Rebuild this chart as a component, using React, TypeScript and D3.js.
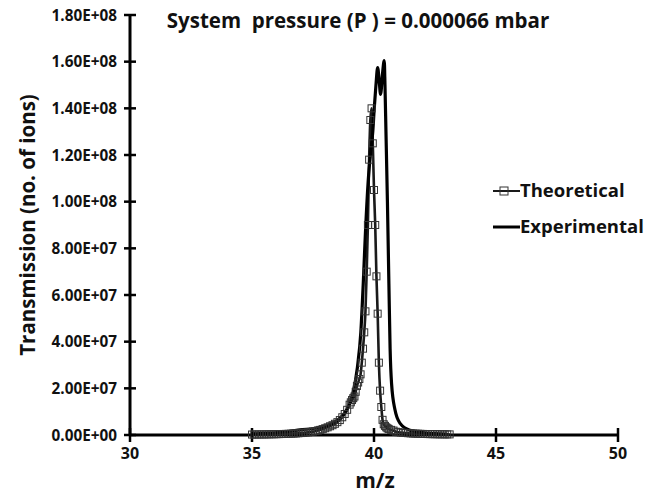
import React from "react";
import * as d3 from "d3";

const title = "System  pressure (P ) = 0.000066 mbar";
const xLabel = "m/z";
const yLabel = "Transmission (no. of ions)";
const xTicks = [30, 35, 40, 45, 50];
const yTicks = [0, 2e7, 4e7, 6e7, 8e7, 1e8, 1.2e8, 1.4e8, 1.6e8, 1.8e8];
const yTickLabels = ["0.00E+00", "2.00E+07", "4.00E+07", "6.00E+07", "8.00E+07", "1.00E+08", "1.20E+08", "1.40E+08", "1.60E+08", "1.80E+08"];
const seriesNames = ["Theoretical", "Experimental"];

const theoMz = [
  35.0, 35.1, 35.2, 35.3, 35.4, 35.5, 35.6, 35.7, 35.8, 35.9,
  36.0, 36.1, 36.2, 36.3, 36.4, 36.5, 36.6, 36.7, 36.8, 36.9,
  37.0, 37.1, 37.2, 37.3, 37.4, 37.5, 37.6, 37.7, 37.8, 37.9,
  38.0, 38.1, 38.2, 38.3, 38.4, 38.5, 38.6, 38.7, 38.8, 38.9,
  39.0, 39.05, 39.1, 39.15, 39.2, 39.25, 39.3, 39.35, 39.4, 39.45,
  39.5, 39.55, 39.6, 39.65, 39.7, 39.75, 39.8, 39.85, 39.9, 39.95,
  40.0, 40.05, 40.1, 40.15, 40.2, 40.25, 40.3, 40.35, 40.4, 40.45,
  40.5, 40.55, 40.6, 40.7, 40.8, 40.9, 41.0, 41.1, 41.2, 41.3,
  41.4, 41.5, 41.6, 41.7, 41.8, 41.9, 42.0, 42.1, 42.2, 42.3,
  42.4, 42.5, 42.6, 42.7, 42.8, 42.9, 43.0, 43.1,
];
const theoVal = [
  2.0e5, 2.1e5, 2.2e5, 2.3e5, 2.4e5, 2.5e5, 2.7e5, 2.9e5, 3.1e5, 3.3e5,
  3.5e5, 3.8e5, 4.1e5, 4.4e5, 4.8e5, 5.2e5, 5.7e5, 6.2e5, 6.8e5, 7.5e5,
  8.3e5, 9.2e5, 1.02e6, 1.14e6, 1.28e6, 1.45e6, 1.65e6, 1.9e6, 2.2e6, 2.5e6,
  2.9e6, 3.3e6, 3.75e6, 4.2e6, 4.8e6, 5.5e6, 6.4e6, 7.6e6, 9.0e6, 1.08e7,
  1.3e7, 1.4e7, 1.5e7, 1.58e7, 1.65e7, 1.85e7, 2.1e7, 2.25e7, 2.4e7, 2.6e7,
  3.1e7, 3.7e7, 4.4e7, 5.3e7, 7.0e7, 9.0e7, 1.18e8, 1.35e8, 1.4e8, 1.25e8,
  1.05e8, 9.0e7, 6.8e7, 5.2e7, 3.1e7, 1.9e7, 1.2e7, 6.5e6, 4.6e6, 3.9e6,
  3.3e6, 2.9e6, 2.6e6, 2.2e6, 1.9e6, 1.4e6, 1.2e6, 1.05e6, 9.5e5, 8.5e5,
  7.7e5, 7.0e5, 6.4e5, 5.9e5, 5.4e5, 5.0e5, 4.6e5, 4.3e5, 4.0e5, 3.8e5,
  3.6e5, 3.4e5, 3.2e5, 3.0e5, 2.9e5, 2.8e5, 2.7e5, 2.6e5,
];

const expMz = [
  35.0, 35.5, 36.0, 36.5, 36.97, 37.65, 38.32, 38.88, 39.14, 39.32,
  39.46, 39.56, 39.65, 39.76, 39.88, 39.95, 40.01, 40.08, 40.15, 40.21,
  40.27, 40.35, 40.42, 40.45, 40.49, 40.55, 40.61, 40.66, 40.72, 40.86,
  41.07, 41.48, 42.0, 42.5, 43.0,
];
const expVal = [
  5e5, 7e5, 1.0e6, 1.5e6, 2.2e6, 3.0e6, 5.2e6, 1.08e7, 1.8e7, 2.9e7,
  4.4e7, 6.5e7, 8.7e7, 1.085e8, 1.23e8, 1.3e8, 1.4e8, 1.5e8, 1.575e8, 1.52e8,
  1.46e8, 1.55e8, 1.605e8, 1.5e8, 1.3e8, 1.0e8, 6.5e7, 3.7e7, 2.2e7, 1.08e7,
  5e6, 2e6, 1e6, 6e5, 4e5,
];

const FONT = "'Open Sans', Lato, sans-serif";

export default function App() {
  const W = 661, H = 494;
  const x = d3.scaleLinear().domain([30, 50]).range([130, 618]);
  const y = d3.scaleLinear().domain([0, 1.8e8]).range([435, 15]);

  const theo = theoMz.map((m, i) => [m, theoVal[i]] as [number, number]);
  const exp = expMz.map((m, i) => [m, expVal[i]] as [number, number]);

  const line = d3.line<[number, number]>()
    .x(d => x(d[0]))
    .y(d => y(d[1]))
    .curve(d3.curveMonotoneX);

  const ms = 7;

  return (
    <svg width={W} height={H} style={{ position: "absolute", left: 0, top: 0, background: "#fff" }} fontFamily={FONT} fontWeight="bold">
      <rect width={W} height={H} fill="#fff" />
      <text x={358} y={28} textAnchor="middle" fontSize={20.5} fill="#111" style={{ whiteSpace: "pre" }}>{title}</text>

      {/* y axis */}
      <line x1={x(30)} x2={x(30)} y1={y(1.8e8)} y2={y(0)} stroke="#000" strokeWidth={3} />
      {yTicks.map((t, i) => (
        <g key={"yt" + i}>
          <line x1={x(30) - 6} x2={x(30) + 6} y1={y(t)} y2={y(t)} stroke="#000" strokeWidth={2.5} />
          <text x={117} y={y(t) + 5.5} textAnchor="end" fontSize={15.3} fill="#111">{yTickLabels[i]}</text>
        </g>
      ))}
      {/* x axis */}
      <line x1={x(30)} x2={x(50)} y1={y(0)} y2={y(0)} stroke="#000" strokeWidth={3} />
      {xTicks.map((t, i) => (
        <g key={"xt" + i}>
          <line x1={x(t)} x2={x(t)} y1={y(0) - 7} y2={y(0) + 7} stroke="#000" strokeWidth={2.5} />
          <text x={x(t)} y={459} textAnchor="middle" fontSize={16} fill="#111">{t}</text>
        </g>
      ))}

      <text x={375} y={488} textAnchor="middle" fontSize={21} fill="#111">{xLabel}</text>
      <text transform={`translate(35,225) rotate(-90)`} textAnchor="middle" fontSize={20.5} fill="#111">{yLabel}</text>

      {/* series */}
      <path d={line(theo) || ""} fill="none" stroke="#1a1a1a" strokeWidth={2.6} />
      <path d={line(exp) || ""} fill="none" stroke="#000" strokeWidth={3.2} />
      {theo.map((d, i) => (
        <rect key={"m" + i} x={x(d[0]) - ms / 2} y={y(d[1]) - ms / 2} width={ms} height={ms} fill="none" stroke="#333" strokeWidth={1} />
      ))}

      {/* legend */}
      <line x1={493} x2={520} y1={191} y2={191} stroke="#1a1a1a" strokeWidth={2} />
      <rect x={504 - 4} y={191 - 4} width={8} height={8} fill="none" stroke="#333" strokeWidth={1} />
      <text x={520} y={197} fontSize={18.5} fill="#111">{seriesNames[0]}</text>
      <line x1={493} x2={520} y1={227} y2={227} stroke="#000" strokeWidth={3} />
      <text x={520} y={233} fontSize={18.5} fill="#111">{seriesNames[1]}</text>
    </svg>
  );
}
